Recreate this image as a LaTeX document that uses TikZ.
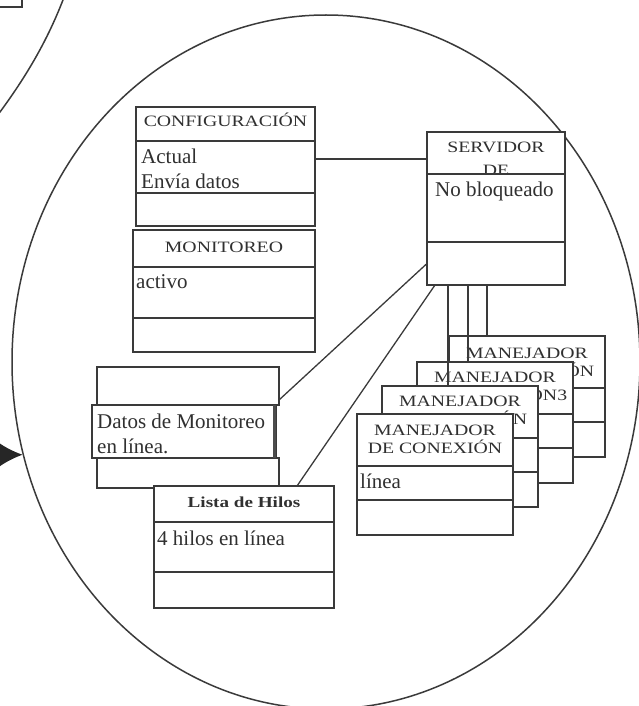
\documentclass[tikz,border=0pt]{standalone}
\usepackage{fontspec}
\setmainfont{Liberation Serif}
\newfontfamily\hdfont{Liberation Serif}[FakeStretch=1.25]
\usetikzlibrary{shapes.geometric,arrows.meta}
\definecolor{ln}{HTML}{3A3A3A}
\definecolor{tx}{HTML}{303030}
\pgfdeclarelayer{back}
\pgfdeclarelayer{mid}
\pgfsetlayers{back,mid,main}

\begin{document}
\begin{tikzpicture}[x=1pt,y=-1pt,
  cell/.style 2 args={draw=ln, fill=white, line width=1.3pt, minimum width=#1,
    minimum height=#2, anchor=north west, inner sep=0pt, outer sep=0pt},
  head/.style={text=tx, inner sep=0pt, anchor=base,
    font=\hdfont\fontsize{15.8}{18}\selectfont},
  body/.style={text=tx, inner sep=0pt, anchor=base west,
    font=\fontsize{21}{25}\selectfont},
  link/.style={draw=ln, line width=1.3pt}]

\useasboundingbox (0,0) rectangle (639,706);
\clip (0,0) rectangle (639,706);

\begin{pgfonlayer}{back}
% neighbouring diagram, partly visible in the upper left corner
\draw[ln, line width=1.3pt] (0,7) -- (22,7) -- (22,-2);
\draw[ln, line width=1.5pt] (66,-8) .. controls (52,30) and (32,70) .. (-6,120);

% enclosing ellipse
\node[ellipse, draw=ln, line width=1.5pt, minimum width=628, minimum height=694,
  inner sep=0pt] (circ) at (326,362) {};

% incoming arrow
\coordinate (arrTail) at (-40,455);
\draw[draw=black!85, line width=3pt, -{Latex[length=26pt,width=28pt]}]
  (arrTail) -- (circ.197);
\end{pgfonlayer}

% configuration class
\node[cell={179}{34}] (cfgH) at (136,107) {};
\node[cell={179}{52}] (cfgM) at (136,141) {};
\node[cell={179}{33}] (cfgF) at (136,193) {};
\node[head] (cfgT) at (225.5,127) {CONFIGURACIÓN};
\node[body] (cfgL1) at (141,163) {Actual};
\node[body] (cfgL2) at (141,188) {Envía datos};

% monitoring class
\node[cell={182}{37}] (monH) at (133,230) {};
\node[cell={182}{51}] (monM) at (133,267) {};
\node[cell={182}{34}] (monF) at (133,318) {};
\node[head] (monT) at (224,252) {MONITOREO};
\node[body] (monL1) at (136,288) {activo};

% server class
\node[cell={138}{42}] (srvH) at (427,132) {};
\node[head] (srvT1) at (496,152) {SERVIDOR};
\node[head] (srvT2) at (496,175.5) {DE};
\node[cell={138}{68}] (srvM) at (427,174) {};
\node[cell={138}{43}] (srvF) at (427,242) {};
\node[body] (srvL1) at (435,196) {No bloqueado};

% monitoring data
\node[cell={182}{38}] (dTop) at (97,367) {};
\node[cell={182}{30}] (dBot) at (97,458) {};
\node[cell={184}{53}] (dMid) at (92,405) {};
\draw[draw=black!70, line width=3pt] ([xshift=-1.5pt]dMid.north east) -- ([xshift=-1.5pt]dMid.south east);
\node[body] (dL1) at (97,428) {Datos de Monitoreo};
\node[body] (dL2) at (97,453) {en línea.};

% thread list
\node[cell={180}{36}] (lsH) at (154,486) {};
\node[cell={180}{50}] (lsM) at (154,522) {};
\node[cell={180}{36}] (lsF) at (154,572) {};
\node[head, font=\hdfont\bfseries\fontsize{15.3}{18}\selectfont] (lsT) at (244,507) {Lista de Hilos};
\node[body] (lsL1) at (157,545) {4 hilos en línea};

% associations from the server, kept behind the boxes
\begin{pgfonlayer}{mid}
\draw[link] ([yshift=8pt]cfgM.east) -- ([yshift=8pt]cfgM.east -| srvH.west);
\draw[link] (srvF.west) -- ([yshift=5pt]dTop.south east);
\draw[link] ([xshift=8pt]srvF.south west) -- ([xshift=-37pt]lsH.north east);
\end{pgfonlayer}

% connection handlers, back to front
\node[cell={156}{52}] (mj4H) at (449,336) {};
\node[cell={156}{34}] (mj4M) at (449,388) {};
\node[cell={156}{35}] (mj4F) at (449,422) {};
\node[head] (mj4T1) at (527,358) {MANEJADOR};
\node[head] (mj4T2) at (527,376) {DE CONEXIÓN};
\draw[link] ([xshift=60pt]srvF.south west) -- ([xshift=60pt]srvF.south west |- mj4H.north);

\node[cell={156}{52}] (mj3H) at (417,362) {};
\node[cell={156}{34}] (mj3M) at (417,414) {};
\node[cell={156}{35}] (mj3F) at (417,448) {};
\node[head] (mj3T1) at (495,382) {MANEJADOR};
\node[head] (mj3T2) at (495,400) {DE CONEXIÓN3};
\draw[link] ([xshift=41pt]srvF.south west) -- ([xshift=41pt]srvF.south west |- mj3H.north);

\node[cell={156}{52}] (mj2H) at (382,386) {};
\node[cell={156}{34}] (mj2M) at (382,438) {};
\node[cell={156}{35}] (mj2F) at (382,472) {};
\node[head] (mj2T1) at (460,406) {MANEJADOR};
\node[head] (mj2T2) at (460,424) {DE CONEXIÓN};
\draw[link] ([xshift=21pt]srvF.south west) -- ([xshift=21pt]srvF.south west |- mj2H.north);

\node[cell={156}{52}] (mj1H) at (357,414) {};
\node[cell={156}{34}] (mj1M) at (357,466) {};
\node[cell={156}{35}] (mj1F) at (357,500) {};
\node[head] (mj1T1) at (435,435) {MANEJADOR};
\node[head] (mj1T2) at (435,453) {DE CONEXIÓN};
\node[body] (mj1L1) at (360,488) {línea};

\end{tikzpicture}
\end{document}
